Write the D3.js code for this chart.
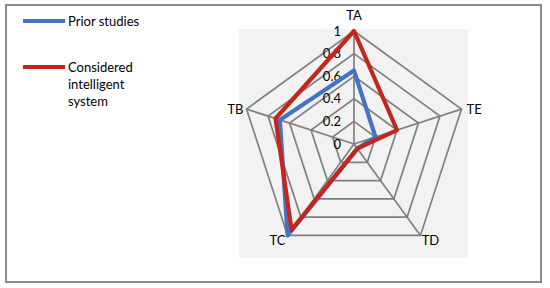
<!DOCTYPE html>
<html>
<head>
<script type="text/javascript" src="https://cdn.jsdelivr.net/npm/d3@7/dist/d3.min.js"></script>
<style>
  body { margin: 0; background: white; }
  text { font-family: Lato, "Open Sans", sans-serif; font-size: 13px; fill: #000; }
</style>
</head>
<body>
<script>

// chart data
var axes = ["TA", "TE", "TD", "TC", "TB"];
var priorStudies = [0.65, 0.2, 0.05, 1.0, 0.69];
var intelligentSystem = [1.0, 0.4, 0.05, 0.94, 0.73];
var seriesNames = ["Prior studies", "Considered intelligent system"];
var ticks = [0, 0.2, 0.4, 0.6, 0.8, 1];

var width = 550,
    height = 288,
    cx = 354,
    cy = 144,
    radius = 113,
    gridColor = "#808080",
    colors = ["#4472c4", "#c3261b"];

var svg = d3.select("body").append("svg")
            .attr("width", width)
            .attr("height", height);

// outer frame
svg.append("rect")
   .attr("x", 6).attr("y", 5)
   .attr("width", 535).attr("height", 277)
   .attr("fill", "white")
   .attr("stroke", "#8c8c8c")
   .attr("stroke-width", 2);

// plot area
svg.append("rect")
   .attr("x", 239).attr("y", 29)
   .attr("width", 229).attr("height", 229)
   .attr("fill", "#f2f2f2");

var r = d3.scaleLinear().domain([0, 1]).range([0, radius]);
var angle = d3.scalePoint().domain(axes.concat(["_end"])).range([0, 2 * Math.PI]);

var g = svg.append("g").attr("transform", "translate(" + cx + "," + cy + ")");

function px(a, v) { return r(v) * Math.sin(angle(a)); }
function py(a, v) { return -r(v) * Math.cos(angle(a)); }

// grid rings
var ring = d3.lineRadial()
             .angle(function (d) { return angle(d.a); })
             .radius(function (d) { return r(d.v); })
             .curve(d3.curveLinearClosed);

g.selectAll(".ring")
 .data(ticks.slice(1))
 .enter().append("path")
 .attr("class", "ring")
 .attr("d", function (t) { return ring(axes.map(function (a) { return {a: a, v: t}; })); })
 .attr("fill", "none")
 .attr("stroke", gridColor)
 .attr("stroke-width", 1.7);

// spokes
g.selectAll(".spoke")
 .data(axes)
 .enter().append("line")
 .attr("class", "spoke")
 .attr("x1", 0).attr("y1", 0)
 .attr("x2", function (a) { return px(a, 1); })
 .attr("y2", function (a) { return py(a, 1); })
 .attr("stroke", gridColor)
 .attr("stroke-width", 1.7);

// tick labels
g.selectAll(".tick")
 .data(ticks)
 .enter().append("text")
 .attr("x", -13)
 .attr("y", function (t) { return -r(t); })
 .attr("dy", "0.35em")
 .attr("text-anchor", "end")
 .text(function (t) { return t; });

// axis labels
var labelPos = {
  "TA": {dx: 0, dy: -16, anchor: "middle"},
  "TE": {dx: 5, dy: 0, anchor: "start"},
  "TD": {dx: 10, dy: 5, anchor: "middle"},
  "TC": {dx: -10, dy: 5, anchor: "middle"},
  "TB": {dx: -3, dy: 0, anchor: "end"}
};

g.selectAll(".axis-label")
 .data(axes)
 .enter().append("text")
 .attr("x", function (a) { return px(a, 1) + labelPos[a].dx; })
 .attr("y", function (a) { return py(a, 1) + labelPos[a].dy; })
 .attr("dy", "0.35em")
 .attr("text-anchor", function (a) { return labelPos[a].anchor; })
 .text(function (a) { return a; });

// series
var seriesLine = d3.lineRadial()
                   .angle(function (d, i) { return angle(axes[i]); })
                   .radius(function (d) { return r(d); })
                   .curve(d3.curveLinearClosed);

[priorStudies, intelligentSystem].forEach(function (vals, i) {
  g.append("path")
   .attr("d", seriesLine(vals))
   .attr("fill", "none")
   .attr("stroke", colors[i])
   .attr("stroke-width", 4.2)
   .attr("stroke-linejoin", "round");
});

// legend
var legendY = [21, 67];
var legend = svg.selectAll(".legend")
                .data(seriesNames)
                .enter().append("g")
                .attr("transform", function (d, i) { return "translate(23," + legendY[i] + ")"; });

legend.append("line")
      .attr("x1", 0).attr("x2", 42)
      .attr("y1", 0).attr("y2", 0)
      .attr("stroke", function (d, i) { return colors[i]; })
      .attr("stroke-width", 4.2);

legend.append("text")
      .each(function (d) {
        var words = d === "Considered intelligent system" ? ["Considered", "intelligent", "system"] : [d];
        var t = d3.select(this);
        words.forEach(function (w, j) {
          t.append("tspan").attr("x", 45).attr("dy", j === 0 ? "0.35em" : 17).text(w);
        });
      });

</script>
</body>
</html>
